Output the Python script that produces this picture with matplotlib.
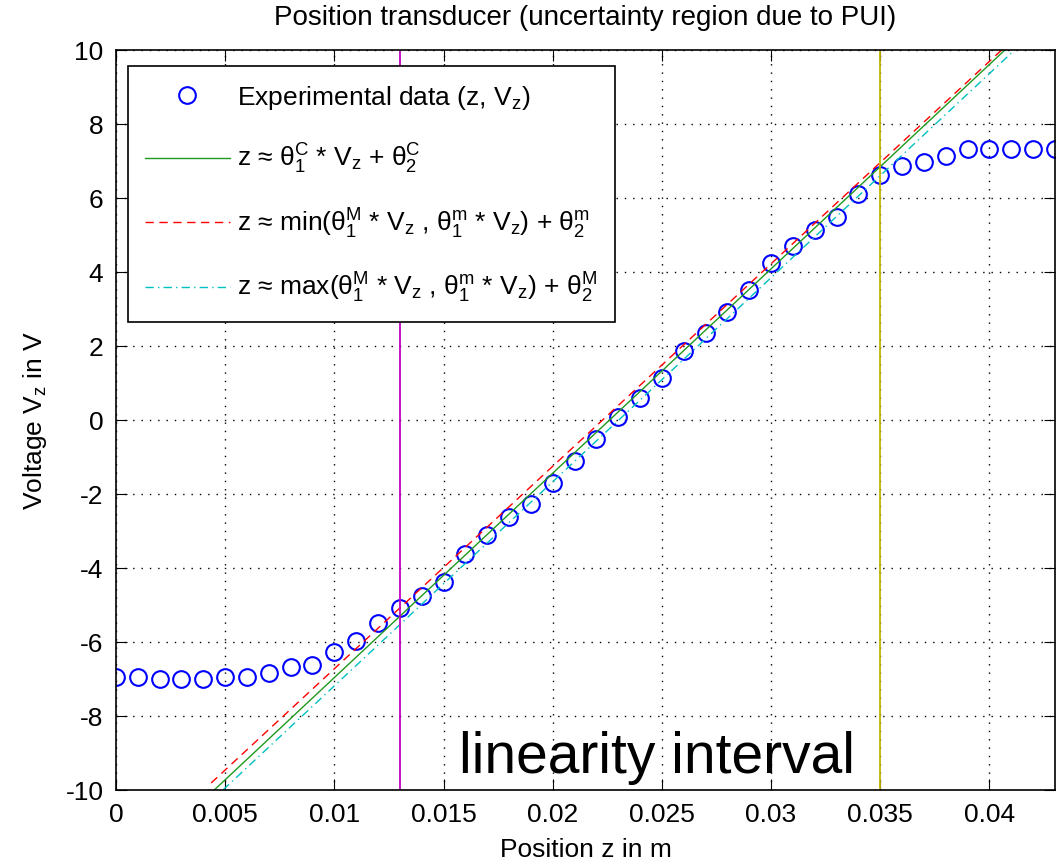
import matplotlib
matplotlib.use("Agg")
import matplotlib.pyplot as plt
import numpy as np

plt.rcParams['font.family'] = ['Liberation Sans', 'DejaVu Sans']
plt.rcParams['mathtext.fontset'] = 'custom'
plt.rcParams['mathtext.rm'] = 'Liberation Sans'
plt.rcParams['mathtext.it'] = 'Liberation Sans'
plt.rcParams['mathtext.default'] = 'regular'
plt.rcParams['axes.unicode_minus'] = False

# measured points (position in m, voltage in V)
z_data = [0.000, 0.001, 0.002, 0.003, 0.004, 0.005, 0.006, 0.007, 0.008, 0.009,
          0.010, 0.011, 0.012, 0.013, 0.014, 0.015, 0.016, 0.017, 0.018, 0.019,
          0.020, 0.021, 0.022, 0.023, 0.024, 0.025, 0.026, 0.027, 0.028, 0.029,
          0.030, 0.031, 0.032, 0.033, 0.034, 0.035, 0.036, 0.037, 0.038, 0.039,
          0.040, 0.041, 0.042, 0.043]
v_data = [-6.95, -6.95, -7.00, -7.00, -7.00, -6.95, -6.94, -6.83, -6.68, -6.62,
          -6.26, -5.97, -5.48, -5.09, -4.75, -4.37, -3.62, -3.11, -2.61, -2.27,
          -1.69, -1.11, -0.52, 0.07, 0.61, 1.13, 1.87, 2.36, 2.93, 3.51,
          4.25, 4.71, 5.14, 5.50, 6.11, 6.62, 6.86, 6.98, 7.14, 7.32,
          7.32, 7.32, 7.32, 7.32]

# fitted lines (end points)
fit_c_z = [0.0045, 0.0407]
fit_c_v = [-10.0, 10.0]
fit_min_z = [0.00436, 0.04055]
fit_min_v = [-9.81, 10.0]
fit_max_z = [0.0049, 0.0410]
fit_max_v = [-10.0, 9.92]

# linearity interval bounds
z_low = 0.013
z_high = 0.035

x_ticks = [0, 0.005, 0.01, 0.015, 0.02, 0.025, 0.03, 0.035, 0.04]
x_labels = ['0', '0.005', '0.01', '0.015', '0.02', '0.025', '0.03', '0.035', '0.04']
y_ticks = [-10, -8, -6, -4, -2, 0, 2, 4, 6, 8, 10]

fs = 19

fig = plt.figure(figsize=(10.56, 8.65), dpi=100)
ax = fig.add_axes([0.1098, 0.0867, 0.8892, 0.8553])

ax.plot(z_data, v_data, 'o', mfc='none', mec='#0000ff', ms=12, mew=1.5,
        label='Experimental data (z, V$_z$)')
ax.plot(fit_c_z, fit_c_v, '-', color='#1f991f', lw=1.0,
        label=r'z ≈ $\theta_1^C$ * V$_z$ + $\theta_2^C$')
ax.plot(fit_min_z, fit_min_v, '--', color='#ff0000', lw=1.0, dashes=(6, 4),
        label=r'z ≈ min($\theta_1^M$ * V$_z$ , $\theta_1^m$ * V$_z$) + $\theta_2^m$')
ax.plot(fit_max_z, fit_max_v, '-.', color='#00c0c0', lw=1.0, dashes=(6, 3, 1, 3),
        label=r'z ≈ max($\theta_1^M$ * V$_z$ , $\theta_1^m$ * V$_z$) + $\theta_2^M$')

ax.axvline(z_low, color='#c000c0', lw=1.3)
ax.axvline(z_high, color='#c0b400', lw=1.3)

ax.text(0.0157, -9.54, 'linearity interval', fontsize=41, va='baseline', ha='left')

ax.set_xlim(0, 0.043)
ax.set_ylim(-10, 10)
ax.set_xticks(x_ticks)
ax.set_xticklabels(x_labels)
ax.set_yticks(y_ticks)
ax.tick_params(direction='in', top=True, right=True, length=8, labelsize=fs, pad=9)
ax.grid(True, color='black', linestyle=(0, (1, 5)), lw=1.0)
for s in ax.spines.values():
    s.set_linewidth(1.2)

ax.set_title('Position transducer (uncertainty region due to PUI)', fontsize=20, pad=18)
ax.set_xlabel('Position z in m', fontsize=fs, labelpad=8)
ax.set_ylabel('Voltage V$_z$ in V', fontsize=fs, labelpad=12)

leg = ax.legend(loc='upper left', bbox_to_anchor=(0.0128, 0.978), borderaxespad=0,
                fontsize=fs, fancybox=False, framealpha=1, edgecolor='black',
                handlelength=3.2, labelspacing=1.15, borderpad=0.65, handletextpad=0.3)
leg.get_frame().set_linewidth(1.2)

fig.savefig('out.png', dpi=100)
